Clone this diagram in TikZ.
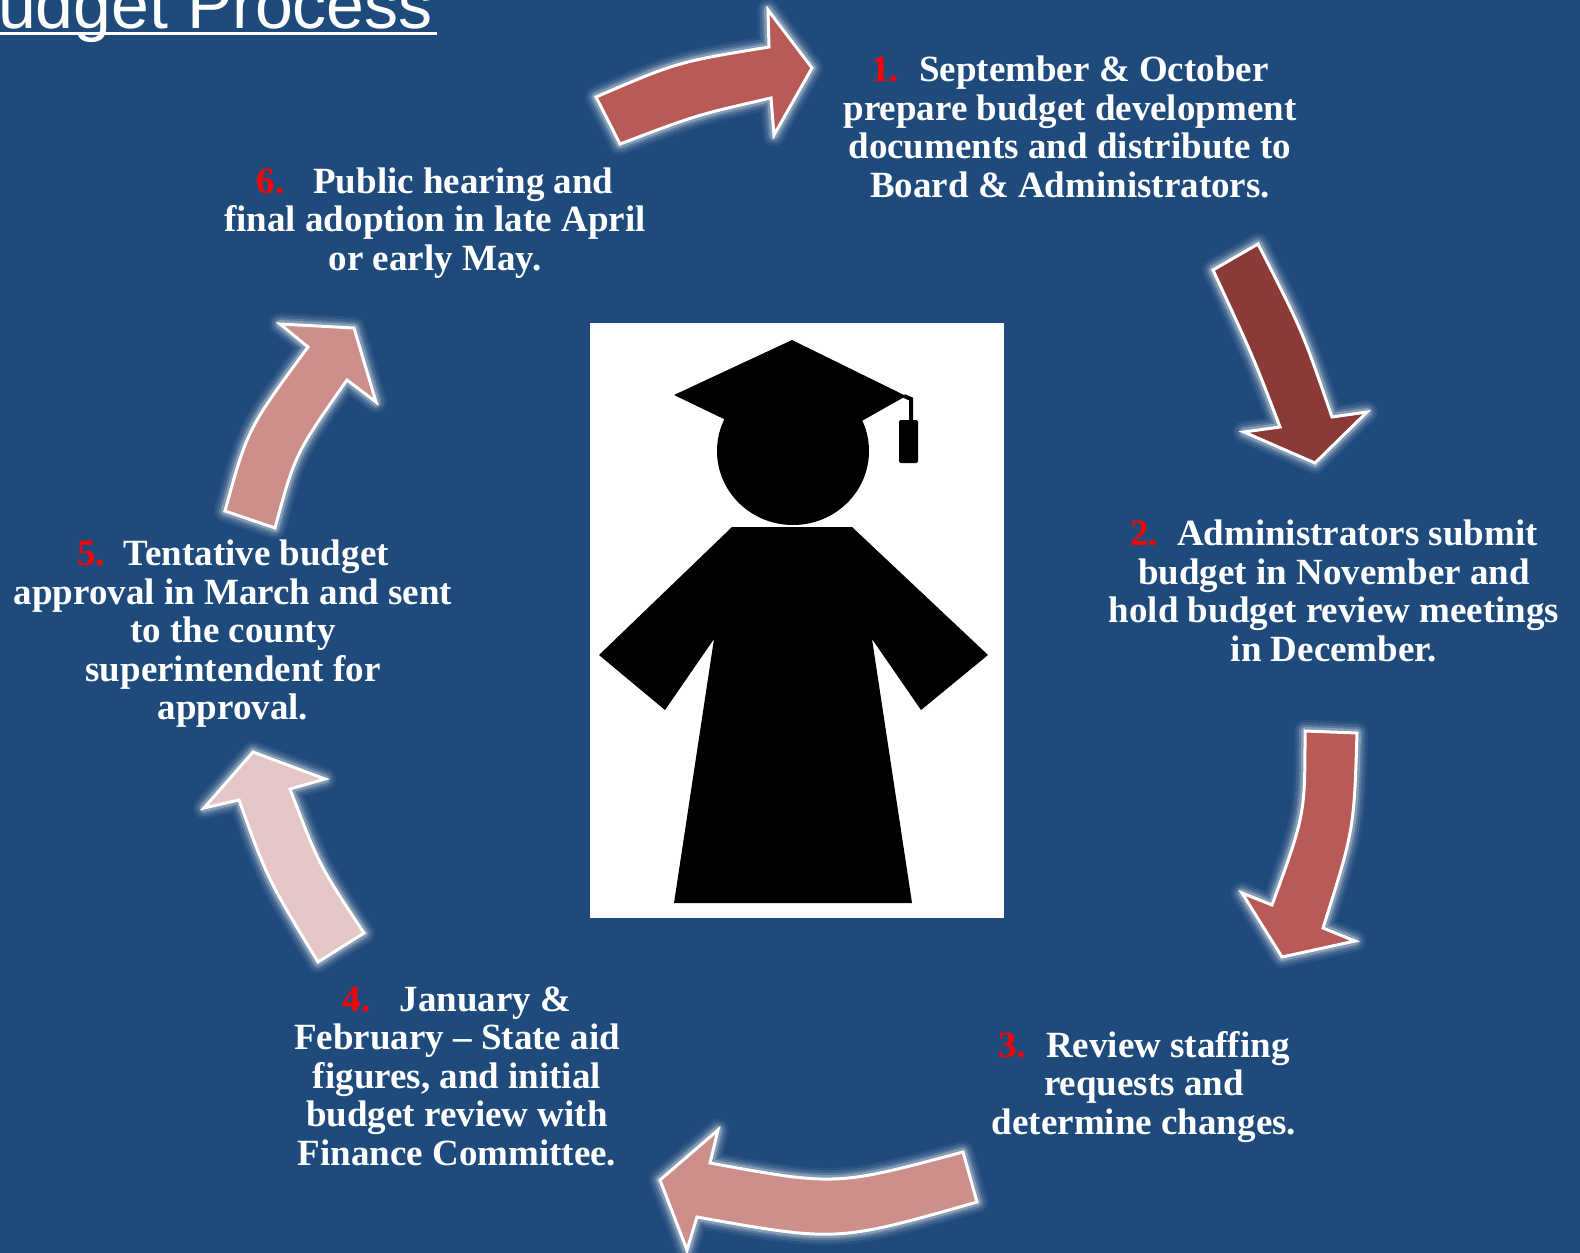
\documentclass[tikz,border=0pt]{standalone}
\usepackage{fontspec}
\setmainfont{Liberation Serif}
\newfontfamily\titlefont{Liberation Sans}
\definecolor{bg}{HTML}{1F4A7C}
\definecolor{arA}{HTML}{B85A55}
\definecolor{arB}{HTML}{8C3A38}
\definecolor{arD}{HTML}{CD8F8C}
\definecolor{arE}{HTML}{E4C6C6}
\definecolor{numred}{HTML}{FF0000}
\tikzset{
  blockarrow/.style={draw=white, line width=3pt, line join=miter, fill=#1},
  steptext/.style={text=white, font=\bfseries\fontsize{37}{38.5}\selectfont, align=center, inner sep=0pt},
  titletext/.style={text=white, font=\titlefont\fontsize{68}{70}\selectfont, inner sep=0pt},
}
\newcommand\glowarrow[2]{%
  \foreach \w/\o in {22/0.06,17/0.09,12/0.15,8/0.25}{\draw[white, opacity=\o, line width=\w pt, line join=round] #2;}%
  \draw[blockarrow=#1] #2;%
}
\begin{document}
\begin{tikzpicture}[x=1pt,y=-1pt]
\useasboundingbox (0,0) rectangle (1580,1253);
\clip (0,0) rectangle (1580,1253);
\fill[bg] (0,0) rectangle (1580,1253);

% title
\node[titletext, anchor=base east] (title) at (433,28) {udget Process};
\draw[white, line width=3.5pt] (0,33.5) -- (437,33.5);

% arrows
\glowarrow{arA}{(596,97) .. controls (677.5,62) .. (769,47) -- (768,10) -- (812,68) -- (774,135) -- (771,98) .. controls (696.5,115) .. (620,144) -- cycle}
\glowarrow{arB}{(1213,270) .. controls (1253.5,357.5) .. (1280,427) -- (1244,432) -- (1315,463) -- (1367,412) -- (1332,417) .. controls (1302,330) .. (1258,244) -- cycle}
\glowarrow{arA}{(1305,731) .. controls (1305,815) .. (1272,905) -- (1242,893) -- (1282,957) -- (1355,941) -- (1323,928) .. controls (1354,830) .. (1357,733) -- cycle}
\glowarrow{arD}{(963,1152) .. controls (836,1186) .. (710,1163) -- (718,1130) -- (660,1180) -- (687,1250) -- (697,1217) .. controls (837,1242) .. (977,1202) -- cycle}
\glowarrow{arE}{(318,962) .. controls (267.5,879) .. (239,800) -- (204,808) -- (253,752) -- (325,779) -- (290,789) .. controls (319,865) .. (364,933) -- cycle}
\glowarrow{arD}{(225,511) .. controls (247.5,429) .. (308,347) -- (280,324) -- (354,328) -- (376,402) -- (347,380) .. controls (295,454) .. (275,528) -- cycle}

% graduate picture
\fill[white] (590,323) rectangle (1004,918);
\fill[black] (674,395) -- (792,340) -- (906,396) -- (860,422) -- (793,410) -- (726,420) -- cycle;
\draw[black, line width=4pt] (904,396) -- (911,399) -- (911,422);
\fill[black, rounded corners=2pt] (899,420) rectangle (918,463);
\fill[black] (793,451) ellipse [x radius=76, y radius=74];
\fill[black] (732,527) -- (852,527) -- (988,655) -- (921,710) -- (872,639) -- (912,903) -- (674,903) -- (714,639) -- (665,710) -- (599,655) -- cycle;

% texts
\node[steptext] (s1) at (1070,127) {\textcolor{numred}{1.}\hspace{20pt}September \& October\\prepare budget development\\documents and distribute to\\Board \& Administrators.};
\node[steptext] (s2) at (1334,591) {\textcolor{numred}{2.}\hspace{19pt}Administrators submit\\budget in November and\\hold budget review meetings\\in December.};
\node[steptext] (s3) at (1144,1087) {\textcolor{numred}{3.}\hspace{20pt}Review staffing\\requests and\\determine changes.};
\node[steptext] (s4) at (457,1076) {\textcolor{numred}{4.}\hspace{29pt}January \&\\February -- State aid\\figures, and initial\\budget review with\\Finance Committee.};
\node[steptext] (s5) at (233,634) {\textcolor{numred}{5.}\hspace{19pt}Tentative budget\\approval in March and sent\\to the county\\superintendent for\\approval.};
\node[steptext] (s6) at (435,223) {\textcolor{numred}{6.}\hspace{29pt}Public hearing and\\final adoption in late April\\or early May.};
\end{tikzpicture}
\end{document}
